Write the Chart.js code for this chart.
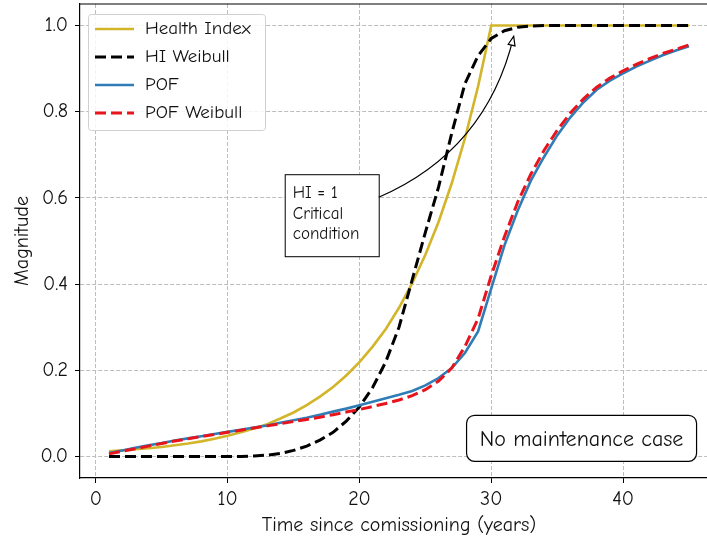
<!DOCTYPE html>
<html lang="en">
<head>
  <meta charset="UTF-8">
  <title>Health Index and POF - No maintenance case</title>
  <script src="https://cdn.jsdelivr.net/npm/chart.js"></script>
  <style>
    html, body { margin: 0; padding: 0; background: #fff; overflow: hidden; }
    #wrap { width: 718px; height: 542px; }
  </style>
</head>
<body>

  <div id="wrap"><canvas id="hiChart" width="718" height="542"></canvas></div>

  <script>
    // Years since commissioning
    const years = [1, 2, 3, 4, 5, 6, 7, 8, 9, 10, 11, 12, 13, 14, 15, 16, 17, 18, 19, 20, 21, 22, 23,
      24, 25, 26, 27, 28, 29, 30, 31, 32, 33, 34, 35, 36, 37, 38, 39, 40, 41, 42, 43, 44, 45];

    const healthIndex = [0.012, 0.014, 0.017, 0.019, 0.022, 0.026, 0.030, 0.035, 0.041, 0.048,
      0.056, 0.065, 0.075, 0.088, 0.102, 0.119, 0.139, 0.161, 0.188, 0.219,
      0.255, 0.296, 0.345, 0.402, 0.468, 0.544, 0.634, 0.738, 0.859, 1.000,
      1.000, 1.000, 1.000, 1.000, 1.000, 1.000, 1.000, 1.000, 1.000, 1.000,
      1.000, 1.000, 1.000, 1.000, 1.000];

    const hiWeibull = [0.000, 0.000, 0.000, 0.000, 0.000, 0.000, 0.000, 0.000, 0.000, 0.000,
      0.000, 0.001, 0.003, 0.007, 0.014, 0.024, 0.038, 0.056, 0.082, 0.115,
      0.160, 0.220, 0.300, 0.410, 0.520, 0.625, 0.750, 0.865, 0.930, 0.970,
      0.988, 0.996, 0.999, 1.000, 1.000, 1.000, 1.000, 1.000, 1.000, 1.000,
      1.000, 1.000, 1.000, 1.000, 1.000];

    const pof = [0.008, 0.014, 0.020, 0.026, 0.031, 0.037, 0.042, 0.047, 0.052, 0.057,
      0.062, 0.067, 0.072, 0.078, 0.084, 0.090, 0.097, 0.104, 0.111, 0.119,
      0.127, 0.135, 0.143, 0.152, 0.165, 0.182, 0.205, 0.240, 0.290, 0.390,
      0.490, 0.570, 0.640, 0.695, 0.745, 0.787, 0.822, 0.851, 0.872, 0.889,
      0.905, 0.918, 0.931, 0.942, 0.952];

    const pofWeibull = [0.006, 0.012, 0.018, 0.024, 0.030, 0.036, 0.041, 0.046, 0.051, 0.056,
      0.061, 0.066, 0.071, 0.076, 0.081, 0.086, 0.091, 0.097, 0.103, 0.109,
      0.116, 0.123, 0.131, 0.141, 0.155, 0.175, 0.205, 0.255, 0.320, 0.420,
      0.510, 0.590, 0.655, 0.710, 0.757, 0.797, 0.830, 0.857, 0.878, 0.895,
      0.910, 0.923, 0.935, 0.945, 0.955];

    const xTicks = [0, 10, 20, 30, 40];
    const yTicks = [0.0, 0.2, 0.4, 0.6, 0.8, 1.0];

    const FONT = "'Comic Sans MS', 'Comic Neue', 'Noto Sans', sans-serif";

    const toPoints = ys => ys.map((y, i) => ({ x: years[i], y: y }));

    // Legend drawn inside the plot, upper left, matplotlib style
    const innerLegend = {
      id: 'innerLegend',
      afterDatasetsDraw(chart) {
        const ctx = chart.ctx;
        const sets = chart.data.datasets;
        const x0 = 88, y0 = 14, w = 177, h = 116;
        ctx.save();
        ctx.fillStyle = 'rgba(255,255,255,0.85)';
        ctx.strokeStyle = '#d0d0d0';
        ctx.lineWidth = 1;
        ctx.beginPath();
        ctx.roundRect(x0 + 0.5, y0 + 0.5, w, h, 3);
        ctx.fill();
        ctx.stroke();
        ctx.font = '19px ' + FONT;
        ctx.textBaseline = 'middle';
        ctx.textAlign = 'left';
        sets.forEach((ds, i) => {
          const y = y0 + 15 + i * 28;
          ctx.beginPath();
          ctx.strokeStyle = ds.borderColor;
          ctx.lineWidth = ds.borderWidth;
          ctx.setLineDash(ds.borderDash || []);
          ctx.moveTo(x0 + 7, y);
          ctx.lineTo(x0 + 46, y);
          ctx.stroke();
          ctx.setLineDash([]);
          ctx.fillStyle = '#111';
          ctx.fillText(ds.label, x0 + 57, y);
        });
        ctx.restore();
      }
    };

    // Top spine, text boxes and the curved arrow
    const annotations = {
      id: 'annotations',
      afterDatasetsDraw(chart) {
        const ctx = chart.ctx;
        const xs = chart.scales.x, ys = chart.scales.y;
        const area = chart.chartArea;
        ctx.save();
        ctx.setLineDash([]);

        ctx.strokeStyle = '#000';
        ctx.lineWidth = 1.2;
        ctx.beginPath();
        ctx.moveTo(area.left, area.top);
        ctx.lineTo(area.right, area.top);
        ctx.lineTo(area.right, area.bottom);
        ctx.stroke();

        // "HI = 1" note box
        const bx = xs.getPixelForValue(14.33), by = ys.getPixelForValue(0.655);
        const bw = 94, bh = 82;
        ctx.fillStyle = '#fff';
        ctx.strokeStyle = '#000';
        ctx.lineWidth = 1;
        ctx.fillRect(bx, by, bw, bh);
        ctx.strokeRect(bx + 0.5, by + 0.5, bw, bh);
        ctx.fillStyle = '#111';
        ctx.font = '17px ' + FONT;
        ctx.textAlign = 'left';
        ctx.textBaseline = 'middle';
        ['HI = 1', 'Critical', 'condition'].forEach((t, i) => {
          ctx.fillText(t, bx + 8, by + 19 + i * 20.5);
        });

        // curved arrow from the box to the point where HI reaches 1
        const sx = bx + bw, sy = by + 23;
        const ex = xs.getPixelForValue(31.7), ey = ys.getPixelForValue(0.975);
        const dx = ex - sx, dy = ey - sy;
        const cx = (sx + ex) / 2 - 0.25 * dy, cy = (sy + ey) / 2 + 0.25 * dx;
        ctx.beginPath();
        ctx.lineWidth = 1.2;
        ctx.moveTo(sx, sy);
        ctx.quadraticCurveTo(cx, cy, ex, ey);
        ctx.stroke();
        const ang = Math.atan2(ey - cy, ex - cx);
        const len = 9, half = 3.5;
        const bxh = ex - len * Math.cos(ang), byh = ey - len * Math.sin(ang);
        ctx.beginPath();
        ctx.moveTo(ex, ey);
        ctx.lineTo(bxh + half * Math.sin(ang), byh - half * Math.cos(ang));
        ctx.lineTo(bxh - half * Math.sin(ang), byh + half * Math.cos(ang));
        ctx.closePath();
        ctx.fillStyle = '#fff';
        ctx.fill();
        ctx.stroke();

        // case label, rounded box
        const mx = xs.getPixelForValue(36.85), my = ys.getPixelForValue(0.042);
        const mw = 230, mh = 46;
        ctx.beginPath();
        ctx.roundRect(mx - mw / 2, my - mh / 2, mw, mh, 8);
        ctx.fillStyle = '#fff';
        ctx.fill();
        ctx.lineWidth = 1.2;
        ctx.stroke();
        ctx.fillStyle = '#111';
        ctx.font = '22px ' + FONT;
        ctx.textAlign = 'center';
        ctx.fillText('No maintenance case', mx, my + 1);

        ctx.restore();
      }
    };

    const gridOpts = {
      color: '#bdbdbd',
      lineWidth: 1,
      tickLength: 5,
      tickColor: '#000',
      tickBorderDash: [],
      tickWidth: 1
    };

    const ctx = document.getElementById('hiChart').getContext('2d');
    const hiChart = new Chart(ctx, {
      type: 'line',
      data: {
        datasets: [
          {
            label: 'Health Index',
            data: toPoints(healthIndex),
            borderColor: '#d3b52a',
            borderWidth: 2.6,
            order: 4
          },
          {
            label: 'HI Weibull',
            data: toPoints(hiWeibull),
            borderColor: '#000000',
            borderWidth: 3,
            borderDash: [11, 5],
            order: 3
          },
          {
            label: 'POF',
            data: toPoints(pof),
            borderColor: '#2f7cb6',
            borderWidth: 2.6,
            order: 2
          },
          {
            label: 'POF Weibull',
            data: toPoints(pofWeibull),
            borderColor: '#e8141c',
            borderWidth: 3,
            borderDash: [11, 5],
            order: 1
          }
        ]
      },
      options: {
        responsive: false,
        animation: false,
        devicePixelRatio: 1,
        layout: { padding: { top: 4, left: 0, right: 0, bottom: 0 } },
        elements: {
          point: { radius: 0 },
          line: { tension: 0, fill: false, borderCapStyle: 'butt' }
        },
        plugins: {
          legend: { display: false },
          tooltip: { enabled: false }
        },
        scales: {
          x: {
            type: 'linear',
            min: -1.2,
            max: 47.2,
            afterBuildTicks: scale => { scale.ticks = xTicks.map(v => ({ value: v })); },
            afterFit: scale => {
              scale.height = 64;
              scale.paddingLeft = 0;
              scale.paddingRight = 0;
            },
            ticks: {
              color: '#111',
              padding: 4,
              font: { family: FONT, size: 20 },
              callback: v => String(v)
            },
            grid: gridOpts,
            border: { display: true, color: '#000', width: 1.2, dash: [4, 2] },
            title: {
              display: true,
              text: 'Time since comissioning (years)',
              color: '#111',
              font: { family: FONT, size: 20 },
              padding: { top: 0, bottom: 5 }
            }
          },
          y: {
            type: 'linear',
            min: -0.05,
            max: 1.05,
            afterBuildTicks: scale => { scale.ticks = yTicks.map(v => ({ value: v })); },
            afterFit: scale => {
              scale.width = 80;
              scale.paddingTop = 0;
              scale.paddingBottom = 0;
            },
            ticks: {
              color: '#111',
              padding: 7,
              font: { family: FONT, size: 20 },
              callback: v => Number(v).toFixed(1)
            },
            grid: gridOpts,
            border: { display: true, color: '#000', width: 1.2, dash: [4, 2] },
            title: {
              display: true,
              text: 'Magnitude',
              color: '#111',
              font: { family: FONT, size: 20 },
              padding: { top: 10, bottom: 0 }
            }
          }
        }
      },
      plugins: [innerLegend, annotations]
    });
  </script>

</body>
</html>
